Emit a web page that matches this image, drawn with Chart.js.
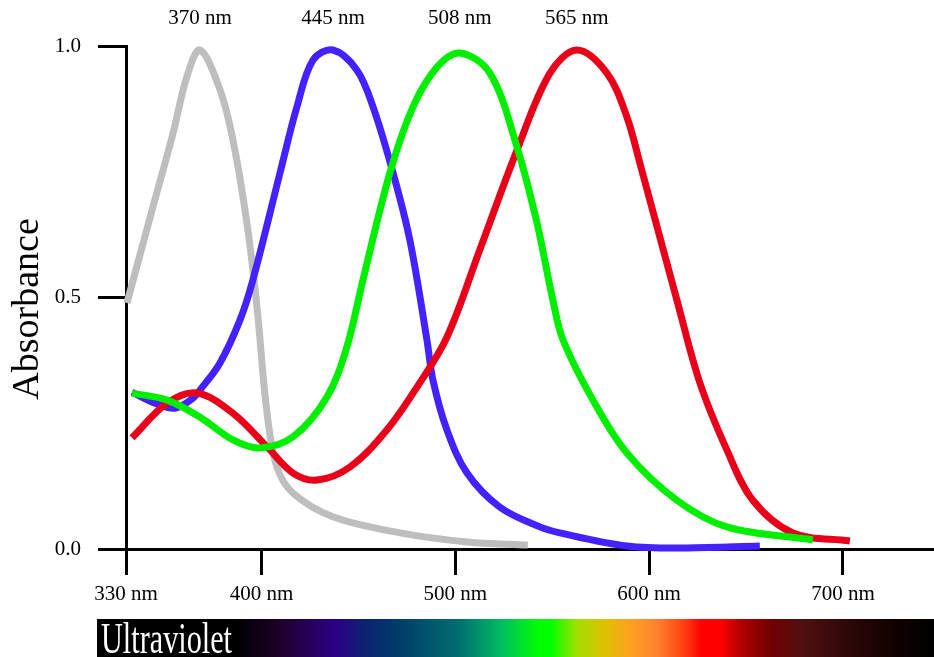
<!DOCTYPE html>
<html>
<head>
<meta charset="utf-8">
<script src="https://cdn.jsdelivr.net/npm/chart.js@4.4.1/dist/chart.umd.min.js"></script>
<style>
  html, body { margin: 0; padding: 0; background: #fff; }
  #wrap { width: 934px; height: 657px; }
</style>
</head>
<body>
<div id="wrap"><canvas id="absorbance-chart" width="934" height="657"></canvas></div>
<script>
// wavelengths (nm) and absorbance, one pair of arrays per cone pigment
const grayNm  = [330.5, 343.9, 354.3, 361.5, 368.2, 378.5, 385.2, 392.4, 397.6, 402.8, 407.9, 416.2, 436.8, 471.4, 506.0, 537.4];
const grayVal = [0.489, 0.680, 0.827, 0.940, 0.992, 0.913, 0.813, 0.648, 0.481, 0.270, 0.163, 0.111, 0.064, 0.032, 0.014, 0.008];

const blueNm  = [333.1, 345.0, 355.3, 364.6, 368.2, 378.5, 388.8, 395.5, 409.5, 418.2, 426.5, 436.8, 449.2, 457.5, 467.8, 476.5, 485.3, 488.4, 495.6, 506.0, 523.0, 543.6, 553.9, 588.5, 619.5, 657.1];
const blueVal = [0.312, 0.290, 0.280, 0.300, 0.316, 0.370, 0.455, 0.535, 0.748, 0.879, 0.972, 0.992, 0.952, 0.879, 0.748, 0.614, 0.416, 0.336, 0.237, 0.151, 0.083, 0.044, 0.032, 0.006, 0.002, 0.006];

const greenNm  = [333.1, 351.2, 368.2, 385.2, 399.1, 416.2, 433.7, 444.0, 452.3, 466.2, 478.1, 490.5, 502.3, 517.8, 531.8, 542.1, 550.3, 555.5, 571.0, 588.5, 614.3, 640.1, 684.5];
const greenVal = [0.310, 0.296, 0.262, 0.217, 0.201, 0.223, 0.302, 0.402, 0.535, 0.748, 0.879, 0.958, 0.986, 0.946, 0.799, 0.648, 0.495, 0.416, 0.296, 0.191, 0.097, 0.044, 0.018];

const redNm  = [333.1, 351.2, 366.6, 385.2, 402.8, 416.2, 428.6, 445.6, 464.7, 480.2, 495.6, 512.7, 531.8, 548.8, 562.7, 578.2, 588.5, 595.2, 614.3, 626.2, 640.1, 653.5, 674.2, 703.6];
const redVal = [0.221, 0.290, 0.310, 0.270, 0.203, 0.151, 0.137, 0.163, 0.237, 0.322, 0.421, 0.596, 0.793, 0.946, 0.992, 0.946, 0.859, 0.767, 0.495, 0.330, 0.197, 0.097, 0.032, 0.016];

const peakLabels = ['370 nm', '445 nm', '508 nm', '565 nm'];
const xTicks = [330, 400, 500, 600, 700];
const yTicks = [0, 0.5, 1];
const spectrumLabel = 'Ultraviolet';

const serif = "'Liberation Serif', 'Times New Roman', serif";

function toPoints(xs, ys) {
    return xs.map((x, i) => ({ x: x, y: ys[i] }));
}

function lineSet(xs, ys, color, order) {
    return {
        data: toPoints(xs, ys),
        borderColor: color,
        borderWidth: 7,
        pointRadius: 0,
        tension: 0.35,
        borderCapStyle: 'butt',
        borderJoinStyle: 'round',
        clip: false,
        order: order
    };
}

// title on the left, peak labels on top, and the spectrum strip at the bottom
const extrasPlugin = {
    id: 'extras',
    afterDraw(chart) {
        const ctx = chart.ctx;
        const xScale = chart.scales.x;

        // peak labels, placed over the highest point of each curve
        ctx.save();
        ctx.fillStyle = '#000';
        ctx.font = '21px ' + serif;
        ctx.textAlign = 'center';
        ctx.textBaseline = 'middle';
        chart.data.datasets.forEach((ds, i) => {
            let best = ds.data[0];
            ds.data.forEach(p => { if (p.y > best.y) best = p; });
            ctx.fillText(peakLabels[i], xScale.getPixelForValue(best.x), 18);
        });
        ctx.restore();

        // y axis title
        ctx.save();
        ctx.translate(28, 309);
        ctx.rotate(-Math.PI / 2);
        ctx.fillStyle = '#000';
        ctx.font = '38px ' + serif;
        ctx.textAlign = 'center';
        ctx.textBaseline = 'middle';
        ctx.fillText('Absorbance', 0, 0);
        ctx.restore();

        // spectrum strip
        const left = 97, right = 934, top = 619, bottom = 657;
        const grad = ctx.createLinearGradient(left, 0, right, 0);
        const stops = [
            [0, '#000000'], [0.166, '#000000'], [0.223, '#200030'], [0.287, '#2c0088'],
            [0.319, '#0c2270'], [0.357, '#003a6a'], [0.434, '#007070'], [0.485, '#00c060'],
            [0.529, '#00ff00'], [0.542, '#00ff00'], [0.573, '#a0e000'], [0.606, '#e0c000'],
            [0.638, '#ffa020'], [0.670, '#ff8030'], [0.701, '#ff4010'], [0.722, '#ff0000'],
            [0.745, '#ff0000'], [0.770, '#b00000'], [0.806, '#700000'], [0.842, '#501010'],
            [0.892, '#300808'], [0.957, '#100000'], [1, '#000000']
        ];
        stops.forEach(s => grad.addColorStop(s[0], s[1]));
        ctx.save();
        ctx.fillStyle = grad;
        ctx.fillRect(left, top, right - left, bottom - top);

        ctx.fillStyle = '#fff';
        ctx.font = '45px ' + serif;
        ctx.textAlign = 'left';
        ctx.textBaseline = 'alphabetic';
        const w = ctx.measureText(spectrumLabel).width;
        ctx.translate(101, 653);
        ctx.scale(131 / w, 1);
        ctx.fillText(spectrumLabel, 0, 0);
        ctx.restore();
    }
};

const ctx = document.getElementById('absorbance-chart').getContext('2d');
new Chart(ctx, {
    type: 'line',
    data: {
        datasets: [
            lineSet(grayNm, grayVal, '#bebebe', 3),
            lineSet(blueNm, blueVal, '#4421ff', 2),
            lineSet(greenNm, greenVal, '#00ef00', 0),
            lineSet(redNm, redVal, '#e8001a', 1)
        ]
    },
    options: {
        responsive: false,
        animation: false,
        layout: { padding: { top: 46, right: 0, left: 0, bottom: 0 } },
        plugins: {
            legend: { display: false },
            tooltip: { enabled: false }
        },
        scales: {
            x: {
                type: 'linear',
                min: 330,
                max: 747,
                afterBuildTicks: (scale) => { scale.ticks = xTicks.map(v => ({ value: v })); },
                afterFit: (scale) => { scale.height = 108; },
                border: { display: true, color: '#000', width: 3 },
                grid: { drawOnChartArea: false, drawTicks: true, tickLength: 26, color: '#000', lineWidth: 3 },
                ticks: {
                    color: '#000',
                    padding: 7,
                    maxRotation: 0,
                    font: { family: serif, size: 21 },
                    callback: (v) => v + ' nm'
                }
            },
            y: {
                min: 0,
                max: 1,
                afterBuildTicks: (scale) => { scale.ticks = yTicks.map(v => ({ value: v })); },
                afterFit: (scale) => { scale.width = 126; },
                border: { display: true, color: '#000', width: 3 },
                grid: { drawOnChartArea: false, drawTicks: true, tickLength: 28, color: '#000', lineWidth: 3 },
                ticks: {
                    color: '#000',
                    padding: 17,
                    font: { family: serif, size: 21 },
                    callback: (v) => Number(v).toFixed(1)
                }
            }
        }
    },
    plugins: [extrasPlugin]
});
</script>
</body>
</html>
